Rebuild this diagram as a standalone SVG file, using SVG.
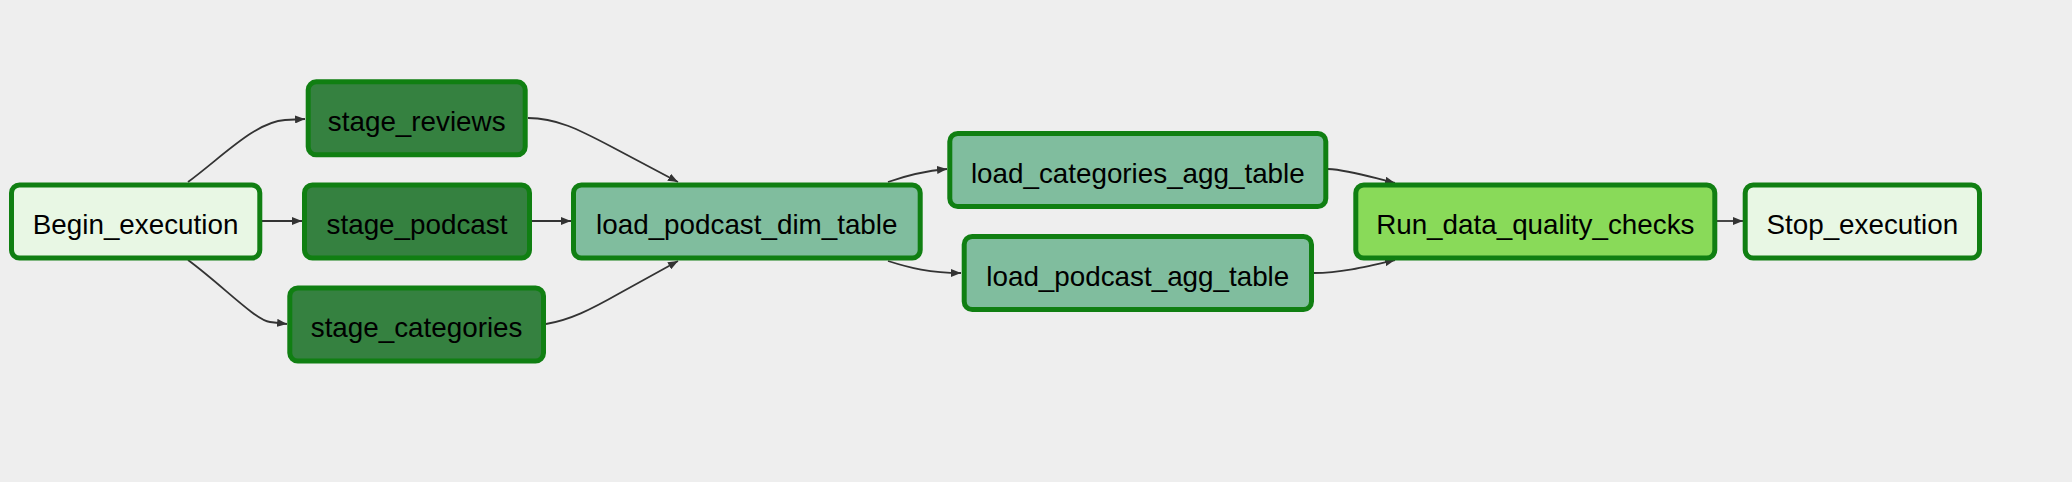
<svg xmlns="http://www.w3.org/2000/svg" width="2072" height="482" viewBox="0 0 2072 482">
<style>
.bg{fill:#eeeeee}
.node rect{stroke:#107f12;stroke-width:5}
.node text{font-family:"Liberation Sans",Arial,Helvetica,sans-serif;font-size:27.8px;fill:#000;text-anchor:middle}
.dummy rect{fill:#e8f7e4}
.stage rect{fill:#358140}
.load rect{fill:#80bd9e}
.dq rect{fill:#89da59}
.edge{fill:none;stroke:#333333;stroke-width:1.8}
</style>
<defs>
<marker id="arrow" markerUnits="userSpaceOnUse" viewBox="0 0 10 8" refX="10" refY="4" markerWidth="10" markerHeight="8" orient="auto">
<path d="M0,0 L10,4 L0,8 z" fill="#333333"/>
</marker>
</defs>
<rect class="bg" x="0" y="0" width="2072" height="482"/>
<g id="connectors">
<path class="edge" marker-end="url(#arrow)" d="M188,182 C222,157 255,122 285,120 L305,119"/>
<path class="edge" marker-end="url(#arrow)" d="M262,221 L302,221"/>
<path class="edge" marker-end="url(#arrow)" d="M188,260 C222,285 255,320 270,322 L287,324"/>
<path class="edge" marker-end="url(#arrow)" d="M528,118 C556,118 578,129 612,147 L678,182"/>
<path class="edge" marker-end="url(#arrow)" d="M532,221 L571,221"/>
<path class="edge" marker-end="url(#arrow)" d="M546,324 C570,320 590,310 620,293 L678,261"/>
<path class="edge" marker-end="url(#arrow)" d="M888,182 C905,176 925,171 947,169"/>
<path class="edge" marker-end="url(#arrow)" d="M888,261 C910,268 930,273 961,273"/>
<path class="edge" marker-end="url(#arrow)" d="M1328,169 C1350,170 1370,177 1395,183"/>
<path class="edge" marker-end="url(#arrow)" d="M1314,273 C1340,273 1365,267 1395,260"/>
<path class="edge" marker-end="url(#arrow)" d="M1717,221 L1743,221"/>
</g>
<g id="Begin_execution" class="node dummy">
<rect x="11.5" y="185" width="248.3" height="73" rx="8"/>
<text x="135.6" y="234">Begin_execution</text>
</g>
<g id="stage_reviews" class="node stage">
<rect x="308.2" y="81.8" width="217" height="73" rx="8"/>
<text x="416.7" y="130.8">stage_reviews</text>
</g>
<g id="stage_podcast" class="node stage">
<rect x="304.5" y="185" width="225" height="73" rx="8"/>
<text x="417" y="234">stage_podcast</text>
</g>
<g id="stage_categories" class="node stage">
<rect x="289.8" y="288" width="253.7" height="73" rx="8"/>
<text x="416.6" y="337">stage_categories</text>
</g>
<g id="load_podcast_dim_table" class="node load">
<rect x="573.5" y="185" width="346.7" height="73" rx="8"/>
<text x="746.8" y="234">load_podcast_dim_table</text>
</g>
<g id="load_categories_agg_table" class="node load">
<rect x="949.8" y="133.5" width="376" height="73" rx="8"/>
<text x="1137.8" y="182.5">load_categories_agg_table</text>
</g>
<g id="load_podcast_agg_table" class="node load">
<rect x="964.2" y="236.5" width="347.3" height="73" rx="8"/>
<text x="1137.8" y="285.5">load_podcast_agg_table</text>
</g>
<g id="Run_data_quality_checks" class="node dq">
<rect x="1355.8" y="185" width="359" height="73" rx="8"/>
<text x="1535.3" y="234">Run_data_quality_checks</text>
</g>
<g id="Stop_execution" class="node dummy">
<rect x="1745.2" y="185" width="234.3" height="73" rx="8"/>
<text x="1862.3" y="234">Stop_execution</text>
</g>
</svg>
